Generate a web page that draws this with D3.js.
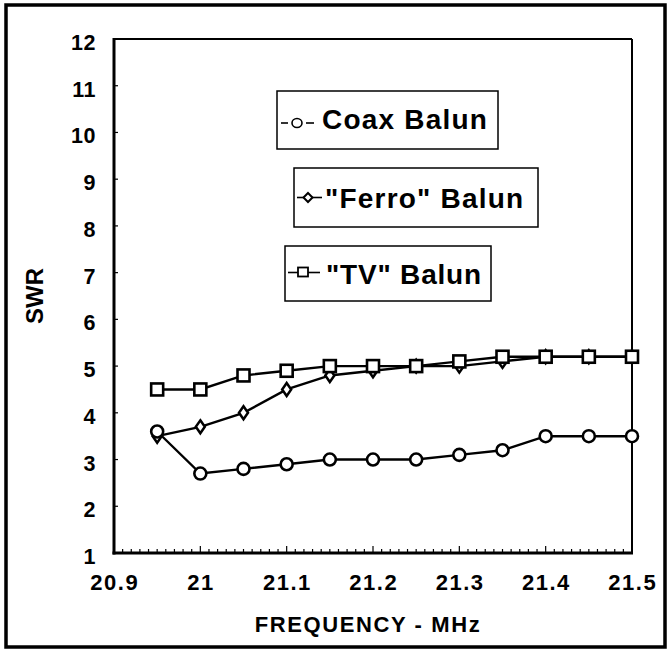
<!DOCTYPE html>
<html>
<head>
<meta charset="utf-8">
<script src="https://cdn.jsdelivr.net/npm/d3@7"></script>
<style>
  html, body { margin: 0; padding: 0; background: #fff; }
  svg { display: block; }
  text { font-family: "Liberation Sans", Arial, Helvetica, sans-serif; font-weight: bold; fill: #000; }
</style>
</head>
<body>
<svg id="chart" width="669" height="653"></svg>
<script>
// Frequencies (MHz) and measured SWR for each balun
const frequencies = [20.95, 21.0, 21.05, 21.1, 21.15, 21.2, 21.25, 21.3, 21.35, 21.4, 21.45, 21.5];
const coaxSWR  = [3.6, 2.7, 2.8, 2.9, 3.0, 3.0, 3.0, 3.1, 3.2, 3.5, 3.5, 3.5];
const ferroSWR = [3.5, 3.7, 4.0, 4.5, 4.8, 4.9, 5.0, 5.0, 5.1, 5.2, 5.2, 5.2];
const tvSWR    = [4.5, 4.5, 4.8, 4.9, 5.0, 5.0, 5.0, 5.1, 5.2, 5.2, 5.2, 5.2];
const xTickLabels = ["20.9", "21", "21.1", "21.2", "21.3", "21.4", "21.5"];
const yTickLabels = ["1", "2", "3", "4", "5", "6", "7", "8", "9", "10", "11", "12"];
const seriesNames = ["Coax Balun", "\"Ferro\" Balun", "\"TV\" Balun"];

const svg = d3.select("#chart");
const plotL = 114, plotR = 632, plotT = 39, plotB = 553;

const x = d3.scaleLinear().domain([20.9, 21.5]).range([plotL, plotR]);
const y = d3.scaleLinear().domain([1, 12]).range([plotB, plotT]);

// outer frame
svg.append("rect").attr("x", 6).attr("y", 5).attr("width", 659).attr("height", 642)
  .attr("fill", "none").attr("stroke", "#000").attr("stroke-width", 3.5);

// plot frame: top and right edges
svg.append("line").attr("x1", plotL).attr("x2", plotR).attr("y1", plotT).attr("y2", plotT)
  .attr("stroke", "#000").attr("stroke-width", 2);
svg.append("line").attr("x1", plotR).attr("x2", plotR).attr("y1", plotT).attr("y2", plotB)
  .attr("stroke", "#000").attr("stroke-width", 2);

// x axis: minor ticks pointing into the plot
const xMinor = d3.range(0, 61).map(i => 20.9 + i * 0.01);
svg.append("g").selectAll("line").data(xMinor).join("line")
  .attr("x1", d => x(d)).attr("x2", d => x(d))
  .attr("y1", plotB).attr("y2", (d, i) => i % 10 === 0 ? plotB - 7 : plotB - 4)
  .attr("stroke", "#000").attr("stroke-width", 1.2);

// y axis ticks pointing into the plot
svg.append("g").selectAll("line").data(yTickLabels).join("line")
  .attr("x1", plotL).attr("x2", plotL + 4)
  .attr("y1", d => y(+d)).attr("y2", d => y(+d))
  .attr("stroke", "#000").attr("stroke-width", 1.2);

// left and bottom axis lines
svg.append("line").attr("x1", plotL).attr("x2", plotL).attr("y1", plotT - 1).attr("y2", plotB + 1.5)
  .attr("stroke", "#000").attr("stroke-width", 3);
svg.append("line").attr("x1", plotL - 1.5).attr("x2", plotR + 1).attr("y1", plotB).attr("y2", plotB)
  .attr("stroke", "#000").attr("stroke-width", 3);

// tick labels
svg.append("g").selectAll("text").data(yTickLabels).join("text")
  .attr("x", 96).attr("y", d => y(+d) + 11)
  .attr("text-anchor", "end").attr("font-size", 21.5).attr("letter-spacing", 0.5)
  .text(d => d);
svg.append("g").selectAll("text").data(xTickLabels).join("text")
  .attr("x", d => x(+d) + 0.75).attr("y", 590)
  .attr("text-anchor", "middle").attr("font-size", 22).attr("letter-spacing", 1.5)
  .text(d => d);

// axis titles
svg.append("text").attr("transform", "translate(43,296) rotate(-90)")
  .attr("text-anchor", "middle").attr("font-size", 24).text("SWR");
svg.append("text").attr("x", 368).attr("y", 632)
  .attr("text-anchor", "middle").attr("font-size", 22).attr("letter-spacing", 1.6)
  .text("FREQUENCY - MHz");

// series lines
const line = d3.line().x(d => x(d[0])).y(d => y(d[1]));
function drawLine(vals) {
  svg.append("path").datum(frequencies.map((f, i) => [f, vals[i]]))
    .attr("d", line).attr("fill", "none").attr("stroke", "#000").attr("stroke-width", 2.4);
}

const diamond = (cx, cy, w, h) => `M${cx},${cy - h}L${cx + w},${cy}L${cx},${cy + h}L${cx - w},${cy}Z`;

// Ferro
drawLine(ferroSWR);
svg.append("g").selectAll("path").data(ferroSWR).join("path")
  .attr("d", (d, i) => diamond(x(frequencies[i]), y(d), 4.5, 6.5))
  .attr("fill", "#fff").attr("stroke", "#000").attr("stroke-width", 2.5);

// Coax
drawLine(coaxSWR);
svg.append("g").selectAll("circle").data(coaxSWR).join("circle")
  .attr("cx", (d, i) => x(frequencies[i])).attr("cy", d => y(d)).attr("r", 6)
  .attr("fill", "#fff").attr("stroke", "#000").attr("stroke-width", 2.6);

// TV
drawLine(tvSWR);
svg.append("g").selectAll("rect").data(tvSWR).join("rect")
  .attr("x", (d, i) => x(frequencies[i]) - 6).attr("y", d => y(d) - 6)
  .attr("width", 12).attr("height", 12)
  .attr("fill", "#fff").attr("stroke", "#000").attr("stroke-width", 2.6);

// legend boxes, one per series
const legendBoxes = [
  { x: 277, y: 91, w: 221, h: 58 },
  { x: 294, y: 168, w: 244, h: 59 },
  { x: 285, y: 246, w: 206, h: 55 }
];
legendBoxes.forEach((b, i) => {
  const g = svg.append("g");
  g.append("rect").attr("x", b.x).attr("y", b.y).attr("width", b.w).attr("height", b.h)
    .attr("fill", "#fff").attr("stroke", "#000").attr("stroke-width", 1.5);
  const cy = b.y + b.h / 2;
  if (i === 0) {
    g.append("line").attr("x1", b.x + 4).attr("x2", b.x + 11).attr("y1", cy + 3).attr("y2", cy + 3)
      .attr("stroke", "#000").attr("stroke-width", 1.6);
    g.append("line").attr("x1", b.x + 29).attr("x2", b.x + 37).attr("y1", cy + 3).attr("y2", cy + 3)
      .attr("stroke", "#000").attr("stroke-width", 1.6);
    g.append("ellipse").attr("cx", b.x + 20).attr("cy", cy + 3).attr("rx", 5).attr("ry", 4.5)
      .attr("fill", "#fff").attr("stroke", "#000").attr("stroke-width", 1.6);
  } else if (i === 1) {
    g.append("line").attr("x1", b.x + 3).attr("x2", b.x + 28).attr("y1", cy).attr("y2", cy)
      .attr("stroke", "#000").attr("stroke-width", 1.6);
    g.append("path").attr("d", diamond(b.x + 14, cy, 4.5, 4.5))
      .attr("fill", "#fff").attr("stroke", "#000").attr("stroke-width", 2);
  } else {
    g.append("line").attr("x1", b.x + 3).attr("x2", b.x + 35).attr("y1", cy - 1).attr("y2", cy - 1)
      .attr("stroke", "#000").attr("stroke-width", 1.6);
    g.append("rect").attr("x", b.x + 13).attr("y", cy - 6).attr("width", 10).attr("height", 9)
      .attr("fill", "#fff").attr("stroke", "#000").attr("stroke-width", 1.8);
  }
  const tx = [b.x + 45, b.x + 31, b.x + 41][i];
  g.append("text").attr("x", tx).attr("y", cy + (i === 0 ? 9 : 10))
    .attr("font-size", 28).attr("letter-spacing", i === 2 ? 0.8 : 1.2)
    .text(seriesNames[i]);
});
</script>
</body>
</html>
